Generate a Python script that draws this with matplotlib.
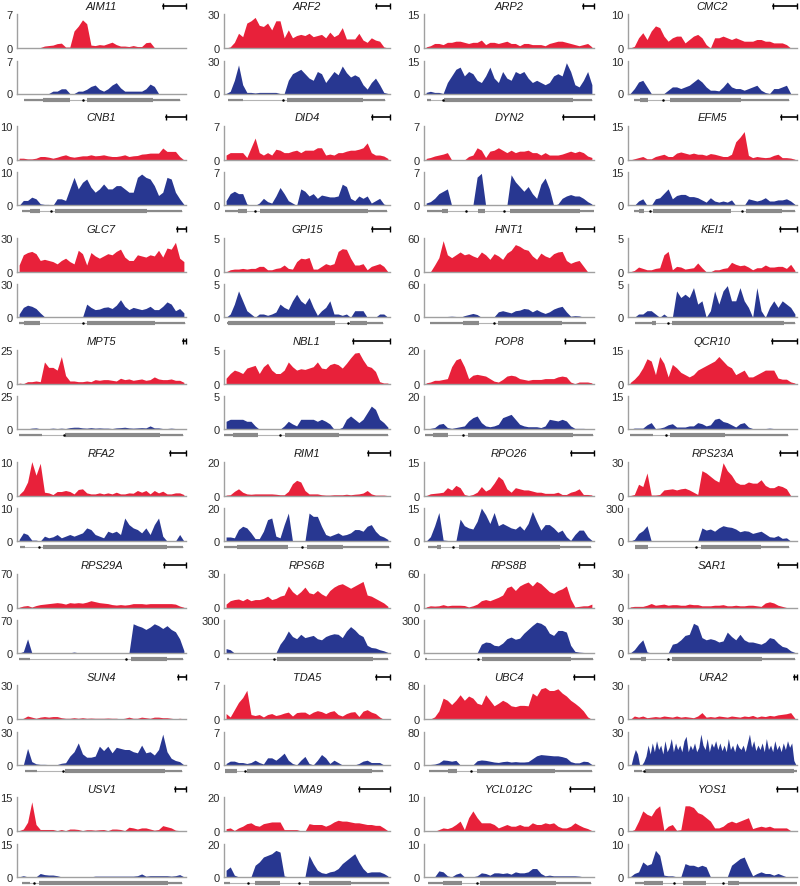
import numpy as np
import matplotlib.pyplot as plt

plt.rcParams['font.family'] = ['Liberation Sans', 'DejaVu Sans']

# gene order: 8 rows x 4 columns, read left to right
genes = ['AIM11', 'ARF2', 'ARP2', 'CMC2',
         'CNB1', 'DID4', 'DYN2', 'EFM5',
         'GLC7', 'GPI15', 'HNT1', 'KEI1',
         'MPT5', 'NBL1', 'POP8', 'QCR10',
         'RFA2', 'RIM1', 'RPO26', 'RPS23A',
         'RPS29A', 'RPS6B', 'RPS8B', 'SAR1',
         'SUN4', 'TDA5', 'UBC4', 'URA2',
         'USV1', 'VMA9', 'YCL012C', 'YOS1']

red_max = [7, 30, 15, 10, 10, 7, 7, 15, 30, 5, 60, 5, 25, 5, 20, 15,
           10, 20, 15, 30, 70, 30, 60, 30, 30, 7, 80, 30, 15, 20, 10, 10]
blue_max = [7, 30, 15, 10, 10, 7, 7, 15, 30, 5, 60, 5, 25, 5, 20, 15,
            10, 20, 15, 300, 70, 300, 300, 30, 30, 7, 80, 30, 15, 20, 10, 10]

# scale bar length, fraction of the panel width
scale_bar = [0.136, 0.084, 0.065, 0.142, 0.118, 0.108, 0.182, 0.095,
             0.053, 0.108, 0.106, 0.100, 0.018, 0.223, 0.171, 0.148,
             0.095, 0.133, 0.135, 0.100, 0.130, 0.084, 0.088, 0.112,
             0.047, 0.084, 0.118, 0.015, 0.065, 0.187, 0.141, 0.118]

# coverage profiles (red = first library, blue = second library)
AIM11_red = [0, 0, 0, 0, 0, 0.1, 0.4, 0.5, 0.6, 0.9, 1.0, 0.2, 0.2, 3.5, 4.5, 5.8, 5.0, 0.6, 0.5, 0.7, 0.6, 0.9, 1.2, 0.7, 0.4, 0.4, 0.3, 0.5, 0.3, 0.3, 1.1, 1.2, 0.1, 0, 0, 0, 0, 0, 0, 0]
AIM11_blue = [0, 0, 0, 0, 0, 0, 0, 0, 0.5, 0.5, 1.0, 1.0, 0, 0, 0.5, 0.5, 0.9, 1.5, 1.8, 0.9, 0.5, 1.0, 1.8, 2.3, 1.2, 0.5, 0.5, 0.5, 0.5, 0.5, 1.0, 2.0, 1.5, 0, 0, 0, 0, 0, 0, 0]
ARF2_red = [0, 1, 5, 13, 10, 22, 24, 27, 20, 19, 22, 16, 24, 24, 9, 16, 9, 11, 12, 11, 13, 10, 11, 12, 9, 14, 10, 12, 18, 8, 8, 8, 13, 7, 5, 9, 7, 6, 1, 0]
ARF2_blue = [0, 2, 12, 26, 8, 1, 1, 0.5, 1, 1, 1, 1, 1, 0, 0, 12, 18, 20, 22, 18, 14, 12, 20, 18, 10, 15, 20, 17, 25, 19, 15, 17, 15, 8, 4, 10, 14, 8, 1, 0]
ARP2_red = [0.5, 1, 2, 2, 1.5, 2.5, 2.5, 3, 3, 2.5, 2, 2.5, 2.5, 3.5, 1.5, 2.5, 2.5, 2, 2.5, 3, 2, 2, 1, 2, 2, 1.5, 1.5, 1.5, 1, 2, 2.5, 3, 3, 2.5, 2, 1.5, 1, 1.5, 2, 0.5]
ARP2_blue = [0.5, 1, 0.5, 0.5, 0, 5, 8, 11, 12, 8, 10, 9, 6, 5, 8, 12, 7, 5, 10, 7, 6, 10, 9, 10, 7, 5, 6, 5, 4, 5, 8, 9, 8, 14, 10, 4, 3, 6, 10, 4]
CMC2_red = [0, 0.5, 3, 4.5, 2.5, 5, 6.5, 6, 3.5, 2, 3, 3.5, 3.5, 1.5, 2.5, 3.5, 4, 3, 1, 0, 3, 3, 3.5, 3, 2.5, 3, 2.5, 2, 2, 2, 2.5, 2.5, 2, 2, 1.5, 1.5, 1.5, 1, 0, 0]
CMC2_blue = [0, 1.5, 3.5, 4, 2, 0, 0, 0, 0, 1, 2, 2, 1.5, 2, 2.5, 3.5, 4.5, 3.5, 2, 1, 1, 0.8, 2, 3.5, 2, 1.5, 1.5, 1, 1.5, 2, 2.5, 1, 0.3, 0, 1.5, 1.5, 2, 2.5, 0, 0]
CNB1_red = [0.5, 0.5, 0.3, 0.3, 0.5, 1, 1, 0.8, 0.5, 0.8, 1.2, 1.5, 1, 0.8, 1, 1.2, 1.2, 1.5, 1.2, 1.3, 1.5, 1.2, 1, 1, 1.2, 1.5, 1, 1.2, 1.3, 1.7, 1.8, 2, 2, 2, 3.5, 2.5, 2.5, 2.5, 1, 0]
CNB1_blue = [0, 1.5, 1.5, 2.5, 2, 0.5, 0.3, 0.3, 0, 2, 2, 1.5, 5, 8.5, 5, 7, 8, 5.5, 4, 5, 6.5, 5, 5, 6, 6, 5, 4, 4, 8.5, 9.5, 8.5, 8, 6, 3, 4, 8.5, 8, 4, 2, 0.3]
DID4_red = [1, 1.5, 1.5, 1.5, 1.5, 0.5, 2.5, 4.5, 1.5, 1, 1.5, 1, 2.2, 2, 1.5, 1.5, 1.8, 2, 1.5, 2, 2, 2, 2.5, 2.5, 1, 1.2, 1, 1.5, 1.5, 1.8, 2, 2, 2.2, 2.5, 3.5, 1.5, 1, 1, 0.8, 0.3]
DID4_blue = [1, 2.5, 3, 2.5, 2.5, 0.3, 0, 0, 0.5, 1.5, 0.8, 0.5, 2, 3.8, 2.5, 1, 0.5, 0, 3.5, 3, 2, 2.5, 1.5, 2.2, 2, 1.8, 1.8, 2, 4.5, 4, 1.5, 1, 2, 1.5, 2, 0.5, 1, 1.5, 0.3, 0]
DYN2_red = [0.3, 0.5, 0.8, 1, 1.2, 1.5, 0, 0, 0, 0, 0.7, 1, 2.5, 2, 0.5, 1.8, 2, 2.5, 2, 1.5, 2, 1.5, 1.8, 1.8, 2, 1.5, 1.5, 1, 1.5, 1, 1, 1, 1.2, 1.5, 1.8, 1.5, 1.8, 1.5, 0.8, 0.5]
DYN2_blue = [0.5, 0.8, 1.5, 2.5, 3, 3.5, 0, 0, 0, 0, 0, 0, 6, 6.8, 0, 0, 0, 0, 0, 0, 6.5, 5, 4, 3, 4, 2.5, 1.5, 4.5, 5.8, 3.5, 0, 0.3, 1.5, 2, 2.3, 2, 2, 1.5, 0.8, 0.3]
EFM5_red = [0, 0.5, 1, 1.5, 0.5, 0.5, 1.5, 2, 2.5, 1.5, 1.5, 3, 3.5, 3, 2.5, 3, 2.5, 2.5, 2, 2.8, 2.5, 2, 1.5, 1.5, 2.5, 8, 10, 12.5, 2, 1, 1.5, 1.2, 1, 1.2, 2, 2.5, 1, 1, 0.8, 0.3]
EFM5_blue = [0, 0, 2, 3, 0, 0, 3, 3.5, 5.5, 7.5, 3, 4.5, 5, 5, 4, 4, 3.5, 2.5, 1.5, 3.5, 2, 1.5, 2, 1.5, 2.5, 0, 0, 0, 3, 2.5, 2, 2.5, 3.5, 2, 2, 2.5, 2.5, 3, 2, 0.5]
GLC7_red = [6, 15, 17, 18, 16, 10, 11, 10, 9, 7, 10, 12, 9, 7, 19, 16, 6, 17, 14, 12, 14, 16, 15, 18, 20, 13, 10, 10, 15, 14, 13, 15, 14, 19, 13, 21, 20, 26, 12, 9]
GLC7_blue = [3, 9, 11, 10, 8, 4, 0.5, 0.3, 0.2, 0.2, 0.2, 0.3, 0.5, 0.5, 0.2, 0, 12, 9, 7, 7.5, 9, 9.5, 8, 11, 16, 10, 7, 9, 8, 7, 8, 10, 7, 7, 10, 14, 12, 6, 8, 4]
GPI15_red = [0, 0.3, 0.4, 0.4, 0.5, 0.4, 0.5, 0.5, 0.8, 0.8, 0.3, 0.3, 0.5, 0.6, 1, 0.5, 0.4, 1.5, 2, 1.9, 2.1, 0.4, 0.4, 0.8, 1.2, 1, 1.2, 3, 3.4, 3.3, 2, 1, 1, 1.2, 0.3, 0.8, 1, 1.2, 0.8, 0]
GPI15_blue = [0, 0.5, 2, 4, 2.5, 1, 0.5, 0, 0.5, 0.5, 0.3, 0.5, 0.8, 2, 1.5, 1.2, 2.5, 3.5, 2.5, 2, 3, 1.5, 0.3, 1, 1.5, 2.5, 0.5, 0.5, 0.3, 0.5, 0, 1, 1, 1, 0, 0, 0, 0.5, 0.5, 0]
HNT1_red = [0, 0, 12, 25, 55, 30, 25, 30, 35, 30, 32, 28, 25, 35, 30, 22, 32, 28, 22, 33, 38, 48, 45, 40, 38, 28, 22, 33, 28, 25, 32, 35, 36, 20, 15, 18, 20, 10, 0, 0]
HNT1_blue = [0, 0, 0, 0, 0, 1.5, 2, 1.5, 0, 3, 5, 7, 5, 0, 0, 0.5, 1, 10, 12, 10, 8, 12, 13, 16, 15, 10, 14, 10, 7, 10, 15, 18, 20, 10, 2, 3, 2.5, 0.5, 0, 0]
KEI1_red = [0, 0.2, 0.7, 0.5, 0.3, 0.3, 0.5, 0.6, 2.5, 3.0, 0.3, 0.8, 0.7, 0.4, 0.5, 0.6, 1.3, 0.6, 0, 0, 0.3, 0.3, 0.5, 0.6, 1.4, 1.1, 0.9, 1, 0.7, 0.3, 0.6, 0.6, 1, 0.7, 0.7, 0.8, 0.8, 0.5, 1.1, 0.2]
KEI1_blue = [0, 0, 0.5, 0.5, 1, 1, 0.5, 0, 0.5, 0, 0, 4, 3, 3.5, 3, 4.5, 2, 2.5, 0, 1, 4, 2, 4, 4.8, 2.5, 2.5, 4.5, 2.5, 1.5, 0, 4.5, 1, 0, 1.5, 2.5, 1.5, 2.5, 2, 1.5, 0.5]
MPT5_red = [0.5, 0, 1.5, 1.5, 2, 1.5, 16, 12, 12, 10, 20, 6, 2, 2, 1.5, 1.5, 2, 1.5, 3, 2.5, 3, 3, 2.5, 2, 4, 3, 3.5, 2.5, 3, 3.5, 2.5, 3, 5, 3.5, 3, 3, 3.5, 2.5, 2.5, 1]
MPT5_blue = [0.3, 0.3, 0.3, 0.8, 1, 0.3, 0.3, 0.5, 0.8, 0.5, 0.8, 0.5, 1.2, 1.5, 1.5, 1, 0.8, 1.2, 0.8, 1, 0.8, 0.8, 0.5, 1, 1.2, 1.5, 1, 0.8, 1, 1.2, 1, 2.5, 1, 1, 0.5, 0.5, 0.8, 0.5, 0.3, 0]
NBL1_red = [0.8, 1.5, 2, 1.8, 1.5, 2.3, 2.5, 2.7, 1.5, 2.5, 3, 2, 1.5, 1.5, 2, 3.2, 2.5, 2, 2.2, 2.1, 2.3, 2.5, 3.2, 2.3, 2.2, 2.8, 3, 2.8, 2.3, 3, 3.8, 4.5, 4.6, 3.5, 2.6, 2.4, 1.8, 0.3, 0.1, 0.1]
NBL1_blue = [1.2, 1.5, 1.5, 1.5, 1.5, 1.2, 1.2, 0.5, 0, 0, 0, 0, 0, 0, 0.5, 1.2, 0.8, 0.5, 1.5, 1.5, 1.5, 1.5, 1.2, 1.5, 1.2, 0.8, 0, 0, 0.3, 1.5, 2, 1.5, 1, 1.5, 2.5, 3.5, 3, 1.5, 1, 0.3]
POP8_red = [0.5, 1, 2, 2, 2.5, 3, 10, 14, 15, 10, 3, 5, 5.5, 5, 4.5, 3, 1.5, 1, 2.5, 4.5, 5, 4.5, 3, 2.5, 2, 2.5, 2.5, 2.5, 3, 3, 3, 4, 4.5, 4, 1, 0, 1, 1, 1, 0.5]
POP8_blue = [0, 0.5, 1, 3, 3.5, 1, 0.5, 1, 1.5, 2, 5, 7, 8, 4, 2, 1.5, 2, 3, 7, 8, 9, 6, 3, 2, 1.5, 1.5, 1.5, 1, 2, 6, 5.5, 5, 6, 5, 2, 0.5, 0.5, 0.5, 0.3, 0]
QCR10_red = [0.5, 2, 4, 7, 11, 10, 4, 12, 9, 3, 8.5, 7, 5, 4, 3, 4, 6, 7, 8, 9, 10, 12, 10, 8, 7, 4, 5, 6, 3, 3, 4, 5, 6, 6, 6, 2.5, 2, 2, 0.8, 0.3]
QCR10_blue = [0, 0.5, 0.5, 0.5, 2, 3, 0.3, 0.5, 1, 2, 2.5, 1, 1, 1, 1.5, 1.5, 3, 2.5, 1.5, 2, 4.5, 5, 3.5, 3, 2, 1, 2.5, 3, 1, 0.3, 0.3, 0.3, 0.3, 0.5, 0.3, 0.3, 0.3, 0.3, 0, 0]
RFA2_red = [0.3, 1.5, 4, 10, 6, 9.5, 1, 0.8, 0.3, 1.2, 1.2, 1.5, 1.2, 0.5, 1.8, 2, 0.8, 0.5, 0.5, 0.8, 0.5, 0.8, 0.5, 1, 0.5, 0.5, 0.8, 0.7, 1.5, 1, 1.5, 0.5, 1.5, 0.8, 1.3, 0.5, 0.5, 0.8, 0.8, 0.3]
RFA2_blue = [0.5, 2.5, 2, 0.3, 0.3, 0, 1.5, 1, 1.3, 2, 1, 1.5, 2, 1.5, 2, 2.5, 4, 3.5, 2, 1.5, 1, 3, 2.5, 3, 2, 7, 5, 4, 3.5, 2.5, 4, 2, 5, 7, 1.5, 0, 0, 0, 2, 0]
RIM1_red = [0.3, 0.5, 2.5, 4, 2, 1, 0.8, 1, 1, 1, 1, 1, 0.8, 0.5, 0.5, 2.5, 7, 9, 8, 3, 1, 1, 1, 0.5, 0.3, 0.3, 0.5, 0.5, 0.5, 0.8, 0.5, 0.8, 1, 1.5, 3, 1, 0.3, 0.3, 0.3, 0]
RIM1_blue = [2.5, 2.5, 2, 7, 9, 8, 5, 1.5, 1.5, 6, 13, 14, 3, 2, 10, 17, 0, 0, 0, 0, 17, 15, 15, 9, 4, 3, 4, 5, 3.5, 4, 5, 7, 7, 6, 9, 10, 6, 3.5, 2.5, 1]
RPO26_red = [0, 0.8, 1, 1.2, 1.5, 3.5, 2.5, 4.5, 3.5, 0.5, 0, 0.5, 1.5, 4, 2, 3, 5.5, 8.5, 7, 3, 1.5, 3.5, 3, 2.5, 2.5, 2, 1.5, 1.5, 1, 1, 1, 1.5, 0.5, 0.5, 1.5, 2, 3, 0.5, 0.5, 0.3]
RPO26_blue = [0, 2, 7, 13, 0.5, 0.3, 0, 0, 10, 7, 6, 5.5, 9, 15, 12, 8, 13, 7, 8, 7, 6, 5.5, 7, 5, 8, 13.5, 9, 5, 7.5, 7.5, 6, 4, 5, 2, 0.3, 3, 5, 5, 2, 0.3]
RPS23A_red = [0, 1, 10, 8, 20, 0.5, 0.5, 1, 5, 5.5, 6, 5, 6, 6.5, 5, 3, 1, 22, 20, 17, 14, 12, 29, 22, 18, 12, 10, 10, 12, 11, 11, 14, 9, 7, 7, 9, 8, 6, 0, 0]
RPS23A_blue = [0, 15, 70, 95, 140, 0, 0, 0, 0, 0, 0, 0, 0, 0, 0, 0, 0, 120, 100, 110, 90, 120, 140, 130, 125, 110, 85, 95, 90, 70, 80, 90, 65, 40, 35, 50, 25, 30, 0, 0]
RPS29A_red = [0.5, 3, 4, 1, 4, 6, 7, 8, 9, 10, 9, 7, 10, 9, 10, 9, 11, 14, 12, 10, 9, 8, 6, 5, 6, 5, 6, 8, 8, 8, 7, 8, 8, 8, 8, 8, 8, 7, 3, 0.5]
RPS29A_blue = [0, 3, 30, 0.5, 0.5, 1, 0.5, 0.3, 0.3, 0.5, 0.5, 0.3, 0.5, 2, 0.5, 0.3, 0.5, 0.5, 0.3, 1, 1, 0.5, 0.3, 0.3, 0.3, 0.3, 0.3, 62, 58, 55, 50, 55, 62, 58, 52, 58, 50, 45, 30, 5]
RPS6B_red = [3, 6, 7, 7.5, 6, 8, 6, 7, 7, 8, 10, 7, 8, 10, 11, 19, 14, 11, 14, 18, 13, 12, 15, 12, 10, 15, 18, 20, 21, 19, 17, 19, 21, 23, 11, 10, 8, 6, 4, 1]
RPS6B_blue = [40, 30, 0, 0, 0, 0, 0, 0, 0, 0, 0, 0, 0, 80, 130, 200, 150, 130, 170, 140, 150, 160, 130, 120, 150, 165, 175, 170, 140, 200, 240, 210, 170, 150, 70, 50, 45, 30, 20, 5]
RPS8B_red = [1, 3, 2.5, 3, 5, 3, 4, 4, 4, 3.5, 1, 3, 6, 12, 14, 12, 15, 18, 22, 35, 38, 30, 38, 42, 45, 38, 46, 42, 35, 28, 25, 30, 33, 38, 15, 1, 2, 3, 3, 6]
RPS8B_blue = [4, 1, 1, 1, 1, 1, 1, 1, 1, 1, 1, 1, 1, 80, 100, 95, 70, 65, 90, 130, 145, 125, 135, 180, 215, 250, 280, 270, 245, 180, 160, 205, 205, 190, 70, 15, 8, 5, 3, 2]
SAR1_red = [0.5, 1, 1, 1, 2, 3.5, 2, 2.5, 3, 2, 2.5, 2.5, 2, 2, 3, 2.5, 2.5, 1.5, 1.5, 1.5, 2, 2, 2.5, 1.5, 1.5, 2, 1.5, 1.5, 2, 2, 1.5, 1, 4, 5, 4, 2, 1, 0, 0, 0]
SAR1_blue = [0, 3, 8, 12, 1, 0, 0, 0, 0, 0, 8, 9, 12, 16, 17, 27, 25, 14, 12, 13, 12, 10, 11, 19, 15, 12, 17, 12, 10, 10, 9, 8, 10, 14, 13, 9, 6, 5, 2, 0.5]
SUN4_red = [0, 1, 3, 2, 1, 2, 2.5, 2, 2.5, 2.5, 1.5, 1, 1, 1.5, 1, 1.5, 1, 1.2, 1, 1, 1, 1.2, 1, 1, 0.5, 1, 2, 1, 1, 2, 1.5, 1, 2, 2, 1.5, 1.5, 1, 0.5, 1, 0.5]
SUN4_blue = [0, 0, 15, 3, 1, 0.5, 0.5, 0.3, 0.3, 0.3, 1.5, 2, 8, 12, 20, 10, 7, 7, 8, 17, 13, 17, 11, 16, 15, 14, 14, 12, 11, 18, 11, 12, 9, 14, 28, 12, 6, 4, 3, 0]
TDA5_red = [1.2, 0.5, 2, 3.5, 4.5, 6, 1, 0.8, 1, 0.5, 1, 1.2, 0.8, 1, 1.3, 1.5, 0.7, 1.4, 1.5, 1.5, 1, 1.5, 1.8, 1.6, 1.2, 1.6, 1.8, 1, 0.7, 1.2, 1.5, 1.6, 0.6, 1.7, 2, 1.5, 1.2, 0.5, 0, 0]
TDA5_blue = [0.3, 0.8, 0.8, 0.5, 0.5, 0.3, 0.5, 1, 0.5, 0.2, 1.5, 1.5, 1, 1.7, 2.5, 1, 0.3, 0, 1, 1.8, 0.3, 0, 1, 2.2, 1.5, 0.3, 1, 0.5, 0, 0, 0, 0, 0.3, 0.8, 1, 0.5, 0.5, 0.5, 0, 0]
UBC4_red = [0, 1, 6, 20, 50, 45, 35, 45, 58, 45, 55, 50, 38, 35, 58, 45, 32, 38, 45, 40, 32, 30, 33, 33, 32, 62, 55, 72, 75, 68, 68, 72, 62, 55, 45, 38, 30, 20, 6, 0]
UBC4_blue = [0, 1, 2, 5, 12, 11, 9, 11, 0, 0, 0, 0, 10, 12, 11, 9, 7, 6, 8, 9, 7, 8, 7, 7, 8, 15, 22, 25, 24, 23, 22, 22, 20, 17, 8, 5, 5, 9, 8, 1]
URA2_red = [0, 3, 2, 3, 1.5, 2, 2.5, 2, 3, 2.5, 2, 3, 2, 2.5, 2, 1.5, 3, 6, 2, 2.5, 2, 3, 2.5, 2, 3, 2.5, 2, 3, 2.5, 3.5, 2, 3, 2.5, 3.5, 3, 4, 4.5, 5, 6, 1]
URA2_blue = [0, 0, 8, 14, 10, 0, 0, 3, 8, 18, 10, 20, 12, 22, 14, 18, 10, 22, 12, 16, 24, 12, 20, 14, 18, 12, 22, 26, 12, 18, 14, 20, 12, 16, 28, 18, 14, 24, 12, 20,
             16, 22, 14, 20, 13, 18, 12, 24, 14, 18, 12, 20, 16, 14, 18, 12, 20, 28, 16, 22, 13, 18, 14, 20, 12, 24, 14, 18, 12, 22, 14, 18, 12, 20, 14, 22, 16, 20, 4, 0]
USV1_red = [0.3, 1, 4, 13, 3, 0.8, 0.8, 0.8, 0.8, 0.3, 0.8, 0.3, 1, 1, 0.8, 0.3, 0.7, 0.7, 0.5, 0.7, 0.8, 0.3, 1, 1, 0.8, 0.3, 1.8, 1.5, 1, 1.5, 1.5, 1, 0.5, 0.8, 2.5, 2, 1.5, 0.5, 0.3, 0]
USV1_blue = [0, 0.5, 0, 0, 0, 1.5, 1, 0.8, 0.8, 0.5, 0, 0, 0, 0, 0, 0, 0, 0, 0.3, 0.3, 0.3, 0.3, 0.3, 0.3, 0.3, 0.3, 0.3, 0.3, 0.5, 1.3, 0.3, 0.5, 0.5, 0.5, 0.5, 0.5, 0.3, 0.5, 1, 0]
VMA9_red = [1.5, 2, 0.5, 2, 3, 4.5, 5, 3.5, 3, 4.5, 5, 5.5, 5.5, 5.5, 1, 1, 1, 1, 0.3, 0, 4.5, 4, 4, 4, 3, 4, 5.5, 6.5, 6, 6, 5.5, 5, 5, 4.5, 4, 4, 3.5, 3.5, 2, 0.3]
VMA9_blue = [4, 6, 1, 0, 0, 0, 0, 7, 9, 12, 13, 14, 16, 15, 0.5, 0, 0, 0, 0, 0, 13, 8, 4, 2.5, 2, 3, 3.5, 5, 8, 10, 12, 14, 9, 5, 2.5, 3, 3, 3, 2, 0.5]
YCL012C_red = [0, 0, 0, 0.5, 1, 0.8, 1.2, 2, 3, 0.5, 4, 6, 4, 2.5, 2.5, 2.5, 2, 1, 1.5, 2, 1.5, 1.5, 2, 1.5, 1.5, 2.5, 2, 2, 2.5, 2.2, 2.5, 1.5, 1, 1, 1.5, 2.5, 1.8, 1.2, 0.8, 0.2]
YCL012C_blue = [0, 0, 0, 1.8, 1.5, 0.3, 0, 0.8, 1.2, 0, 0, 0, 0.3, 1.2, 1, 0.5, 1.2, 1.2, 1, 1.2, 0.8, 1.5, 1.2, 1.2, 1.5, 2.5, 2.5, 1, 0.3, 0.5, 0.3, 0.3, 0.3, 0.3, 0.3, 0.3, 0.2, 0, 0, 0]
YOS1_red = [0, 0.5, 3, 6, 5, 4.5, 6.5, 7.5, 0.3, 1.5, 2, 0.3, 0.5, 7.5, 7.5, 7, 5.5, 5, 4, 3, 1, 1, 1.5, 2.5, 3, 2.5, 3, 3.5, 4, 0.8, 1.2, 1.5, 1.2, 1.5, 1, 1, 1, 1, 0.2, 0]
YOS1_blue = [0, 1, 1.5, 4.5, 3.5, 4, 8, 6.5, 0.5, 0.3, 0.3, 0, 0, 4, 3.5, 3.5, 3, 3.5, 3, 0, 0, 0, 0, 0, 3.5, 4.5, 5.5, 6, 3, 0.3, 1, 1.5, 1, 1, 0.5, 1, 0.5, 0, 0, 0]

red_tracks = [AIM11_red, ARF2_red, ARP2_red, CMC2_red, CNB1_red, DID4_red, DYN2_red, EFM5_red,
              GLC7_red, GPI15_red, HNT1_red, KEI1_red, MPT5_red, NBL1_red, POP8_red, QCR10_red,
              RFA2_red, RIM1_red, RPO26_red, RPS23A_red, RPS29A_red, RPS6B_red, RPS8B_red, SAR1_red,
              SUN4_red, TDA5_red, UBC4_red, URA2_red, USV1_red, VMA9_red, YCL012C_red, YOS1_red]
blue_tracks = [AIM11_blue, ARF2_blue, ARP2_blue, CMC2_blue, CNB1_blue, DID4_blue, DYN2_blue, EFM5_blue,
               GLC7_blue, GPI15_blue, HNT1_blue, KEI1_blue, MPT5_blue, NBL1_blue, POP8_blue, QCR10_blue,
               RFA2_blue, RIM1_blue, RPO26_blue, RPS23A_blue, RPS29A_blue, RPS6B_blue, RPS8B_blue, SAR1_blue,
               SUN4_blue, TDA5_blue, UBC4_blue, URA2_blue, USV1_blue, VMA9_blue, YCL012C_blue, YOS1_blue]

# gene models: UTR pieces, coding exons and the small black marks (fraction of panel width)
utr_parts = [
    [(0.04, 0.154), (0.803, 0.965)], [(0.026, 0.116), (0.84, 0.97)],
    [(0.016, 0.04), (0.876, 0.988)], [(0.033, 0.072), (0.668, 0.951)],
    [(0.03, 0.079), (0.768, 0.974)], [(0.006, 0.086), (0.87, 0.98)],
    [(0.016, 0.104), (0.916, 0.998)], [(0.033, 0.063), (0.912, 0.99)],
    [(0.01, 0.039), (0.817, 0.994)], [(0.016, 0.026), (0.861, 0.955)],
    [(0.035, 0.231), (0.814, 0.955)], [(0.043, 0.141), (0.926, 0.986)],
    [(0.01, 0.148), (0.846, 0.98)], [(0.0, 0.056), (0.694, 0.99)],
    [(0.006, 0.055), (0.876, 0.994)], [(0.014, 0.15), (0.576, 0.945)],
    [(0.02, 0.05), (0.886, 0.985)], [(0.0, 0.076), (0.719, 0.996)],
    [(0.025, 0.074), (0.798, 0.984)], [(0.785, 0.951)],
    [(0.01, 0.079), (0.886, 0.984)], [(0.016, 0.03), (0.896, 0.99)],
    [(0.006, 0.02), (0.867, 0.994)], [(0.014, 0.078), (0.795, 0.99)],
    [(0.049, 0.118), (0.876, 0.974)], [(0.89, 0.956)],
    [(0.031, 0.143), (0.773, 0.99)], [(0.033, 0.082), (0.982, 1.0)],
    [(0.03, 0.079), (0.895, 0.974)], [(0.0, 0.036), (0.763, 0.994)],
    [(0.025, 0.113), (0.775, 0.984)], [(0.043, 0.092), (0.658, 1.0)],
]
cds_parts = [
    [(0.154, 0.315), (0.417, 0.803)], [(0.382, 0.84)],
    [(0.12, 0.876)], [(0.072, 0.121), (0.25, 0.668)],
    [(0.079, 0.138), (0.226, 0.768)], [(0.086, 0.141), (0.217, 0.87)],
    [(0.104, 0.143), (0.319, 0.358), (0.505, 0.916)], [(0.063, 0.092), (0.15, 0.61), (0.698, 0.912)],
    [(0.039, 0.134), (0.413, 0.817)], [(0.026, 0.669), (0.757, 0.861)],
    [(0.231, 0.325), (0.436, 0.814)], [(0.141, 0.166), (0.26, 0.926)],
    [(0.285, 0.846)], [(0.056, 0.207), (0.367, 0.694)],
    [(0.055, 0.143), (0.26, 0.876)], [(0.248, 0.576)],
    [(0.154, 0.886)], [(0.076, 0.388), (0.502, 0.719)],
    [(0.074, 0.1), (0.207, 0.798)], [(0.043, 0.121), (0.43, 0.785)],
    [(0.675, 0.886)], [(0.321, 0.896)],
    [(0.342, 0.867)], [(0.078, 0.107), (0.258, 0.795)],
    [(0.285, 0.876)], [(0.006, 0.077), (0.137, 0.89)],
    [(0.143, 0.196), (0.309, 0.773)], [(0.102, 0.982)],
    [(0.128, 0.895)], [(0.187, 0.337), (0.514, 0.763)],
    [(0.113, 0.221), (0.329, 0.775)], [(0.092, 0.209), (0.326, 0.459), (0.59, 0.658)],
]
tss_dots = [[0.388], [0.357], [0.11], [0.205], [0.201], [0.187], [0.247, 0.472], [0.131, 0.672],
            [0.39], [0.745], [0.413], [0.239], [0.28], [0.335], [0.231], [0.223],
            [0.132], [0.468], [0.172], [0.4], [0.646], [0.3], [0.315], [0.234],
            [0.272], [0.127], [0.276], [0.096], [0.102], [0.142, 0.454], [0.31], [0.273, 0.564]]

RED = '#e8213a'
BLUE = '#283791'
AXIS_GREY = '#a0a0a0'
GENE_GREY = '#8a8a8a'

W, H = 800, 887
fig = plt.figure(figsize=(W / 100, H / 100), dpi=100)

col_left = [17, 224, 424, 628]
col_width = [169, 166, 170, 169]


def px_axes(left, top, width, height):
    """Add an axes given in pixels measured from the top-left corner."""
    return fig.add_axes([left / W, 1 - (top + height) / H, width / W, height / H])


def coverage(ax, values, ymax, color):
    y = np.asarray(values, dtype=float)
    x = (np.arange(len(y)) + 0.5) / len(y)
    ax.fill_between(x, 0, y, color=color, lw=0)
    ax.set_xlim(0, 1)
    ax.set_ylim(0, ymax)
    ax.set_xticks([])
    ax.set_yticks([0, ymax])
    ax.set_yticklabels(['0', str(ymax)])
    ax.tick_params(axis='y', length=0, pad=3, labelsize=8, labelcolor='#2a2a2a')
    for side in ('top', 'right'):
        ax.spines[side].set_visible(False)
    for side in ('left', 'bottom'):
        ax.spines[side].set_color(AXIS_GREY)
        ax.spines[side].set_linewidth(1.0)
    ax.patch.set_visible(False)


def gene_model(ax, utr, cds, dots):
    ax.set_xlim(0, 1)
    ax.set_ylim(-1, 1)
    ax.axis('off')
    ends = [p for seg in utr + cds for p in seg]
    ax.plot([min(ends), max(ends)], [0, 0], color='#b3b3b3', lw=0.8, solid_capstyle='butt')
    for a, b in utr:
        ax.plot([a, b], [0, 0], color=GENE_GREY, lw=1.6, solid_capstyle='butt')
    for a, b in cds:
        ax.plot([a, b], [0, 0], color=GENE_GREY, lw=3.0, solid_capstyle='butt')
    for d in dots:
        ax.plot([d], [0], 'o', color='black', ms=1.8, mew=0)


for i, name in enumerate(genes):
    row, col = divmod(i, 4)
    base = 49 + 111.9 * row
    left, width = col_left[col], col_width[col]

    ax_r = px_axes(left, base - 34, width, 34)
    coverage(ax_r, red_tracks[i], red_max[i], RED)
    ax_r.text(0.5, 1 + 8.5 / 34, name, transform=ax_r.transAxes, ha='center', va='center',
              fontsize=8, style='italic', color='#1a1a1a')
    bar = scale_bar[i]
    ax_r.plot([1 - bar, 1], [1 + 8.5 / 34] * 2, transform=ax_r.transAxes, clip_on=False,
              color='black', lw=1.2, marker='|', ms=4, mew=1.0)

    ax_b = px_axes(left, base + 12.5, width, 33)
    coverage(ax_b, blue_tracks[i], blue_max[i], BLUE)

    ax_g = px_axes(left, base + 47.5, width, 8)
    gene_model(ax_g, utr_parts[i], cds_parts[i], tss_dots[i])

fig.savefig('out.png', dpi=100)
